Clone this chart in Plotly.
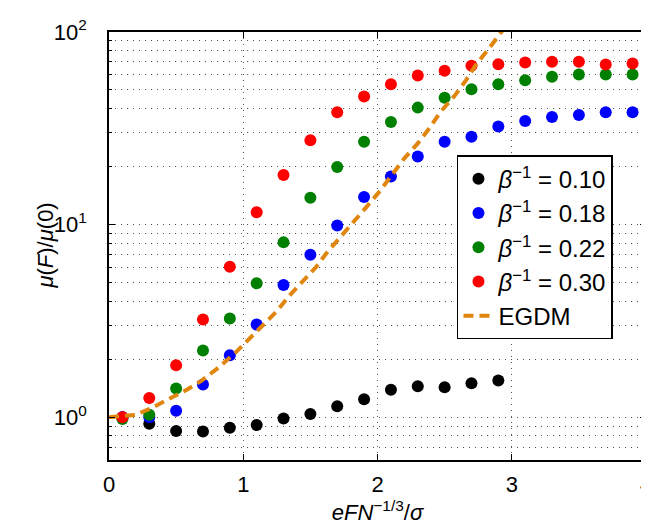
import plotly.graph_objects as go

x_all = [0.1, 0.3, 0.5, 0.7, 0.9, 1.1, 1.3, 1.5, 1.7, 1.9,
         2.1, 2.3, 2.5, 2.7, 2.9, 3.1, 3.3, 3.5, 3.7, 3.9]
x_black = x_all[:15]

mu_010 = [1.00, 0.925, 0.848, 0.844, 0.882, 0.911, 0.986, 1.04, 1.14, 1.24,
          1.39, 1.45, 1.43, 1.50, 1.55]
mu_018 = [1.00, 1.00, 1.08, 1.48, 2.10, 3.03, 4.86, 6.97, 9.9, 13.9,
          17.8, 22.6, 26.9, 28.6, 32.3, 34.5, 36.2, 37.1, 38.3, 38.3]
mu_022 = [0.98, 1.03, 1.41, 2.22, 3.26, 4.96, 8.09, 13.8, 19.9, 26.9,
          34.1, 40.5, 45.6, 50.5, 53.6, 56.2, 58.6, 60.2, 60.2, 60.2]
mu_030 = [1.00, 1.26, 1.86, 3.22, 6.04, 11.6, 18.1, 27.4, 38.3, 46.2,
          53.5, 59.5, 62.9, 66.8, 68.1, 69.5, 70.1, 70.1, 67.9, 68.7]

egdm_x = [0.0, 0.1, 0.2, 0.32, 0.47, 0.58, 0.69, 0.82, 0.94, 1.04, 1.14, 1.25, 1.34,
          1.44, 1.54, 1.63, 1.73, 1.83, 1.92, 2.02, 2.11, 2.2, 2.3, 2.39,
          2.47, 2.57, 2.66, 2.74, 2.83, 2.92, 3.0]
egdm_y = [1.0, 1.01, 1.03, 1.12, 1.26, 1.39, 1.55, 1.82, 2.16, 2.53, 2.97, 3.55, 4.25,
          5.02, 6.0, 7.26, 8.7, 10.4, 12.4, 15.0, 18.1, 22.1, 26.4, 31.9,
          38.6, 46.2, 56.3, 68.7, 82.1, 98.3, 118.0]

series = [
    ("0.10", x_black, mu_010, "black"),
    ("0.18", x_all, mu_018, "#0000ff"),
    ("0.22", x_all, mu_022, "#008000"),
    ("0.30", x_all, mu_030, "#ff0000"),
]

y_major = [1, 10, 100]
y_major_text = ["10<sup>0</sup>", "10<sup>1</sup>", "10<sup>2</sup>"]
y_minor = [0.6, 0.7, 0.8, 0.9, 2, 3, 4, 5, 6, 7, 8, 9,
           20, 30, 40, 50, 60, 70, 80, 90]
x_ticks = [0, 1, 2, 3, 4]

FONT = "Liberation Sans, Arial, sans-serif"
GRID = "#555555"

fig = go.Figure()
for beta, xs, ys, col in series:
    fig.add_trace(go.Scatter(
        x=xs, y=ys, mode="markers",
        marker=dict(color=col, size=12, line=dict(width=0)),
        name="<i>β</i><sup>−1</sup> = " + beta,
    ))
fig.add_trace(go.Scatter(
    x=egdm_x, y=egdm_y, mode="lines",
    line=dict(color="#e0860f", width=4, dash="10px,6px"),
    name="EGDM",
))

fig.update_layout(
    width=649, height=527,
    margin=dict(l=101, r=5, t=24, b=75),
    paper_bgcolor="white", plot_bgcolor="white",
    font=dict(family=FONT, size=22, color="black"),
    showlegend=True,
    legend=dict(
        x=0.648, y=0.712, xanchor="left", yanchor="top",
        bgcolor="white", bordercolor="black", borderwidth=1.5,
        font=dict(family=FONT, size=24, color="black"),
        tracegroupgap=0,
    ),
    annotations=[dict(
        text="<i>μ</i>(<i>F</i>)/<i>μ</i>(0)", textangle=-90,
        xref="paper", yref="paper", x=-0.12, y=0.5,
        xanchor="center", yanchor="middle", showarrow=False,
        font=dict(family=FONT, size=22, color="black"),
    )],
)

fig.update_xaxes(
    range=[0, 4], tickvals=x_ticks, ticktext=[str(t) for t in x_ticks],
    ticks="inside", ticklen=6, tickwidth=1, tickcolor="black",
    showline=True, linecolor="black", linewidth=1.5, mirror="ticks",
    showgrid=True, gridcolor=GRID, gridwidth=1, griddash="1px,5px",
    zeroline=False,
    ticklabelstandoff=4,
    tickfont=dict(family=FONT, size=22),
    title=dict(text="<i>eFN</i><sup>−1/3</sup>/<i>σ</i>", standoff=6,
               font=dict(family=FONT, size=22)),
)
fig.update_yaxes(
    type="log", range=[-0.2218, 2],
    tickvals=y_major, ticktext=y_major_text,
    ticks="inside", ticklen=6, tickwidth=1, tickcolor="black",
    showline=True, linecolor="black", linewidth=1.5, mirror="ticks",
    showgrid=True, gridcolor=GRID, gridwidth=1, griddash="1px,5px",
    minor=dict(tickvals=y_minor, ticks="inside", ticklen=3, tickcolor="black",
               showgrid=True, gridcolor=GRID, gridwidth=1, griddash="1px,5px"),
    zeroline=False,
    ticklabelstandoff=16,
    tickfont=dict(family=FONT, size=22),
)

fig.write_html("out.html")
